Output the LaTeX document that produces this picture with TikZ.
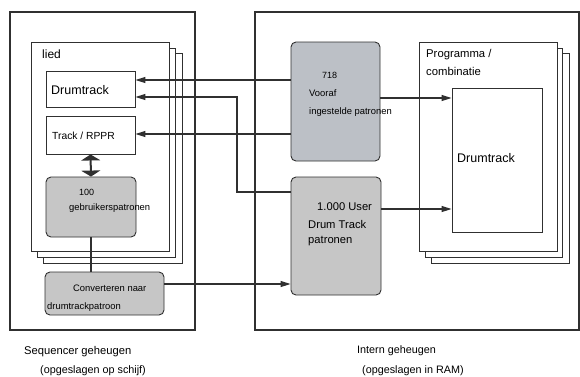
\documentclass[tikz,border=0pt]{standalone}
\usepackage{fontspec}
\setmainfont{Liberation Sans}
\usetikzlibrary{arrows.meta}
\definecolor{boxA}{HTML}{BCC0C6}
\definecolor{boxB}{HTML}{C6C6C6}
\definecolor{ln}{HTML}{303030}
\tikzset{
  outer/.style={draw=ln,line width=1.6pt},
  page/.style={draw=ln,line width=0.6pt,fill=white},
  plain/.style={draw=ln,line width=0.9pt,fill=white},
  gbox/.style={draw=ln,line width=0.9pt,rounded corners=5pt},
  arr/.style={draw=ln,line width=1.1pt,-{Triangle[length=10pt,width=6pt]}},
  conn/.style={draw=ln,line width=1.1pt},
  lbl/.style={inner sep=0pt,anchor=west,text=black},
}
\begin{document}
\begin{tikzpicture}[x=1pt,y=-1pt]
\useasboundingbox (0,0) rectangle (580,376);
% outer boxes
\draw[outer] (10,12) rectangle (195,330);
\draw[outer] (255,12) rectangle (579,330);
% lied pages
\draw[page] (43,53) rectangle (182,263);
\draw[page] (37,48) rectangle (175,257);
\draw[page] (31,42) rectangle (169,251);
\node[lbl,font=\fontsize{12}{14}\selectfont] (lied) at (42,54) {lied};
% programma pages
\draw[page] (431,53) rectangle (569,263);
\draw[page] (425,48) rectangle (562,257);
\draw[page] (419,42) rectangle (557,251);
\node[lbl,font=\fontsize{11.3}{13}\selectfont] (prog1) at (426,55) {Programma /};
\node[lbl,font=\fontsize{11.3}{13}\selectfont] (prog2) at (426,71) {combinatie};
% left boxes
\node[plain,minimum width=89pt,minimum height=36pt,inner sep=0pt] (drum) at (90.5,89) {};
\node[lbl,font=\fontsize{12.5}{14}\selectfont] (drumt) at (51,90) {Drumtrack};
\node[plain,minimum width=89pt,minimum height=38pt,inner sep=0pt] (track) at (90.5,135) {};
\node[lbl,font=\fontsize{10.3}{12}\selectfont] (trackt) at (52,136) {Track / RPPR};
\node[gbox,fill=boxB,minimum width=90pt,minimum height=60pt,inner sep=0pt] (pat) at (91,207) {};
\node[lbl,font=\fontsize{9}{11}\selectfont] (patt1) at (79,192) {100};
\node[lbl,font=\fontsize{9.4}{11}\selectfont] (patt2) at (69,208) {gebruikerspatronen};
\node[gbox,fill=boxB,minimum width=119pt,minimum height=43pt,inner sep=0pt] (conv) at (104.5,293.5) {};
\node[lbl,font=\fontsize{9.4}{11}\selectfont] (convt1) at (73,288) {Converteren naar};
\node[lbl,font=\fontsize{9.4}{11}\selectfont] (convt2) at (47,307) {drumtrackpatroon};
% right boxes
\node[gbox,fill=boxA,minimum width=89pt,minimum height=119pt,inner sep=0pt] (pre) at (335.5,101.5) {};
\node[lbl,font=\fontsize{9}{11}\selectfont] (pret1) at (322,75) {718};
\node[lbl,font=\fontsize{9.4}{11}\selectfont] (pret2) at (309,93) {Vooraf};
\node[lbl,font=\fontsize{9.4}{11}\selectfont] (pret3) at (309,112) {ingestelde patronen};
\node[gbox,fill=boxB,minimum width=90pt,minimum height=118pt,inner sep=0pt] (usr) at (336,236) {};
\node[lbl,font=\fontsize{11.2}{13}\selectfont] (usrt1) at (317,207) {1.000 User};
\node[lbl,font=\fontsize{11.2}{13}\selectfont] (usrt2) at (308,224) {Drum Track};
\node[lbl,font=\fontsize{11.2}{13}\selectfont] (usrt3) at (308,241) {patronen};
\node[plain,minimum width=90pt,minimum height=144pt,inner sep=0pt] (pdrum) at (497,160) {};
\node[lbl,font=\fontsize{12.5}{14}\selectfont] (pdrumt) at (457,158) {Drumtrack};
% captions
\node[lbl,font=\fontsize{11.2}{13}\selectfont] (cap1) at (24,352) {Sequencer geheugen};
\node[lbl,font=\fontsize{10.8}{13}\selectfont] (cap2) at (40,371) {(opgeslagen op schijf)};
\node[lbl,font=\fontsize{10.8}{13}\selectfont] (cap3) at (357,351) {Intern geheugen};
\node[lbl,font=\fontsize{10.8}{13}\selectfont] (cap4) at (362,371) {(opgeslagen in RAM)};
% connectors
\draw[arr] (pre.west|-{(0,80)}) -- (drum.east|-{(0,80)});
\draw[arr] (usr.west|-{(0,192)}) -- (237,192) -- (237,97) -- (drum.east|-{(0,97)});
\draw[arr] (pre.west|-{(0,134)}) -- (track.east|-{(0,134)});
\draw[arr] (conv.east|-{(0,284)}) -- (usr.west|-{(0,284)});
\draw[arr] (pre.east|-{(0,98)}) -- (pdrum.west|-{(0,98)});
\draw[arr] (usr.east|-{(0,209)}) -- (pdrum.west|-{(0,209)});
\draw[conn] (pat.south) -- (pat.south|-conv.north);
\draw[draw=ln,line width=2pt,{Triangle[length=6pt,width=19pt]}-{Triangle[length=6pt,width=19pt]}] (track.south) -- (pat.north);
\end{tikzpicture}
\end{document}
